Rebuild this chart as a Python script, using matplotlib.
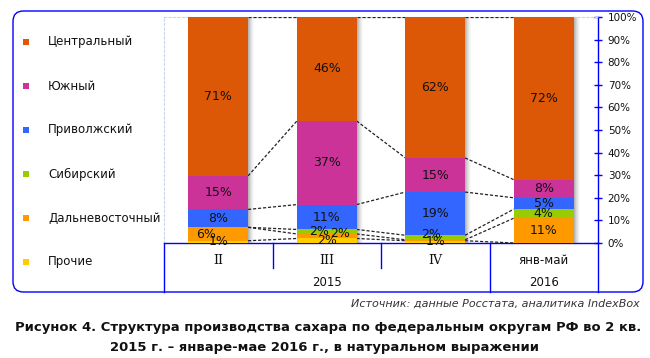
import matplotlib
matplotlib.use('Agg')
import matplotlib.pyplot as plt
import numpy as np
from matplotlib.patches import FancyBboxPatch, Rectangle
from matplotlib.lines import Line2D

plt.rcParams['font.family'] = ['DejaVu Sans']

# ---------------- data ----------------
categories = ['II', 'III', 'IV', 'янв-май']
years = ['2015', '2016']
year_groups = [[0, 1, 2], [3]]
series = ['Прочие', 'Дальневосточный', 'Сибирский', 'Приволжский', 'Южный', 'Центральный']
prochie = [1, 2, 1, 0]
dalnevostochny = [6, 2, 0.4, 11]
sibirsky = [0, 2, 2, 4]
privolzhsky = [8, 11, 19, 5]
yuzhny = [15, 37, 15, 8]
centralny = [71, 46, 62, 72]
y_ticks = [0, 10, 20, 30, 40, 50, 60, 70, 80, 90, 100]

values = [prochie, dalnevostochny, sibirsky, privolzhsky, yuzhny, centralny]
colors = ['#FFCC00', '#FF9900', '#99CC00', '#3366FF', '#CC3399', '#DC5806']
BLUE = '#0000FF'

W, H = 650, 358
fig = plt.figure(figsize=(W / 100, H / 100), dpi=100)


def fx(px):
    return px / W


def fy(py):
    return 1 - py / H


ax = fig.add_axes([fx(164), fy(243), 434 / W, 226 / H])
ax.set_xlim(-0.5, len(categories) - 0.5)
ax.set_ylim(0, 100)

x = np.arange(len(categories))
vals = np.array(values, dtype=float)
totals = vals.sum(axis=0)
shares = vals / totals * 100
bw = 0.55

# shadows to the right of bars
px = (len(categories)) / 434.0
for xi in x:
    for k in range(6):
        ax.add_patch(Rectangle((xi + bw / 2 + k * px, 0), px, 100,
                               facecolor='#7a7a7a', alpha=0.55 * (1 - k / 6) ** 1.5,
                               lw=0, zorder=2))

# label nudges (x in category units, y in %)
nudges = {(0, 1): (-0.11, 0), (1, 2): (-0.075, 0), (1, 1): (0.12, 1.0),
          (2, 2): (-0.04, 1.5)}

bottom = np.zeros(len(categories))
for si, name in enumerate(series):
    ax.bar(x, shares[si], bottom=bottom, width=bw, color=colors[si],
           zorder=3, linewidth=0)
    top = bottom + shares[si]
    # series lines
    for ci in range(len(categories) - 1):
        ax.plot([x[ci] + bw / 2, x[ci + 1] - bw / 2], [top[ci], top[ci + 1]],
                color='#222222', lw=0.9, ls=(0, (2.5, 1.5)), zorder=2.6)
    for ci in range(len(categories)):
        v = vals[si, ci]
        if v >= 1:
            dx, dy = nudges.get((ci, si), (0, 0))
            ax.text(x[ci] + dx, bottom[ci] + shares[si, ci] / 2 + dy,
                    f'{v:.0f}%', ha='center', va='center', fontsize=9,
                    color='#111111', zorder=5)
    bottom = top

# axes styling
ax.set_xticks([])
ax.yaxis.tick_right()
ax.set_yticks(y_ticks)
ax.set_yticklabels([f'{t}%' for t in y_ticks])
ax.tick_params(axis='y', direction='inout', length=6, width=1, color=BLUE,
               labelsize=7.5, pad=4, labelcolor='#111111')
for s in ['left', 'top']:
    ax.spines[s].set_color('#c9d5ea')
    ax.spines[s].set_linestyle((0, (2, 2)))
    ax.spines[s].set_linewidth(0.8)
for s in ['right', 'bottom']:
    ax.spines[s].set_color(BLUE)
    ax.spines[s].set_linewidth(1)

# multi-level category axis
tr = ax.get_xaxis_transform()
y_short = -25 / 226
y_long = -49 / 226
for xb in [-0.5, 2.5, 3.5]:
    ax.add_line(Line2D([xb, xb], [0, y_long], transform=tr, color=BLUE, lw=1, clip_on=False))
for xb in [0.5, 1.5]:
    ax.add_line(Line2D([xb, xb], [0, y_short], transform=tr, color=BLUE, lw=1, clip_on=False))
for ci, c in enumerate(categories):
    roman = c in ('II', 'III', 'IV')
    ax.text(x[ci], -17 / 226, c, transform=tr, ha='center', va='center',
            fontsize=9 if roman else 8.5, color='#111111',
            family='DejaVu Serif' if roman else 'DejaVu Sans')
for yi, yr in enumerate(years):
    g = year_groups[yi]
    ax.text(np.mean([x[i] for i in g]), -39 / 226, yr, transform=tr,
            ha='center', va='center', fontsize=8.5, color='#111111')

# outer rounded border
border = FancyBboxPatch((fx(13), fy(292)), fx(643) - fx(13), fy(11) - fy(292),
                        boxstyle='round,pad=0,rounding_size=0.016',
                        transform=fig.transFigure, fill=False, ec=BLUE, lw=1,
                        mutation_aspect=W / H)
fig.add_artist(border)

# legend
for i, si in enumerate(reversed(range(len(series)))):
    yc = 42 + 44 * i
    fig.add_artist(Rectangle((fx(23), fy(yc + 3)), 6 / W, 6 / H,
                             transform=fig.transFigure, facecolor=colors[si], lw=0))
    fig.text(fx(48), fy(yc), series[si], ha='left', va='center', fontsize=8.5,
             color='#111111')

# source & title
fig.text(fx(640), fy(304), 'Источник: данные Росстата, аналитика IndexBox',
         ha='right', va='center', fontsize=8, style='italic', color='#333333')
fig.text(fx(328), fy(327),
         'Рисунок 4. Структура производства сахара по федеральным округам РФ во 2 кв.',
         ha='center', va='center', fontsize=9.45, fontweight='bold', color='#111111')
fig.text(fx(324), fy(347), '2015 г. – январе-мае 2016 г., в натуральном выражении',
         ha='center', va='center', fontsize=9.45, fontweight='bold', color='#111111')

fig.savefig('out.png', dpi=100)
